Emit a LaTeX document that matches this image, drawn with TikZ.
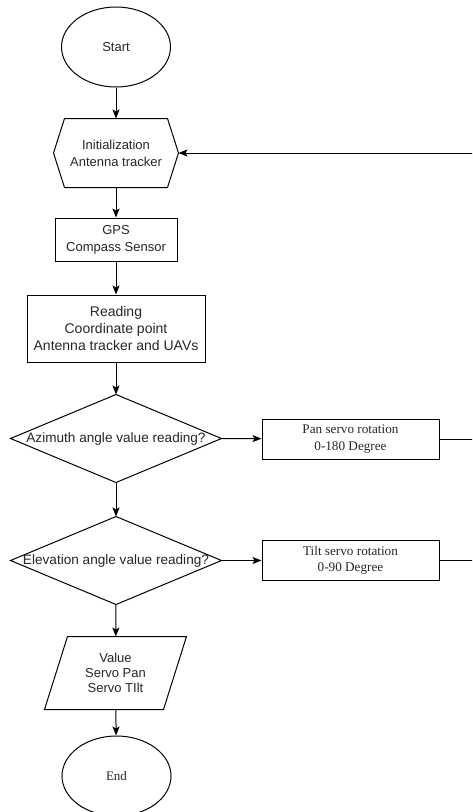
\documentclass[tikz,border=0pt]{standalone}
\usepackage{fontspec}
\setmainfont{Liberation Sans}
\newfontfamily\seriffont{Liberation Serif}
\usetikzlibrary{shapes.geometric,arrows.meta}
\begin{document}
\begin{tikzpicture}[x=1pt,y=-1pt,
  line width=1pt,
  every node/.style={align=center, text=black!85, font=\fontsize{13}{17}\selectfont},
  term/.style={ellipse, draw, minimum width=109pt, minimum height=80pt, inner sep=0pt},
  box/.style={rectangle, draw, inner sep=0pt},
  plain/.style={rectangle, inner sep=0pt},
  servo/.style={box, minimum width=177pt, minimum height=40pt, font=\seriffont\fontsize{13.2}{16.3}\selectfont},
  arr/.style={-{Stealth[length=9pt,width=7pt,inset=2pt]}},
]
\useasboundingbox (0,0) rectangle (472,812);
\clip (0,0) rectangle (472,812);

\node[term] (start) at (116,47) {Start};

\node[plain, minimum width=124pt, minimum height=68pt] (init) at (116,153) {Initialization\\Antenna tracker};
\draw (init.west) -- ([xshift=11pt]init.north west) -- ([xshift=-11pt]init.north east) -- (init.east) -- ([xshift=-11pt]init.south east) -- ([xshift=11pt]init.south west) -- cycle;

\node[box, minimum width=122pt, minimum height=43pt] (gps) at (116,239.5) {GPS\\Compass Sensor};

\node[box, minimum width=178pt, minimum height=67pt, font=\fontsize{14}{17.3}\selectfont] (read) at (116,328.5) {Reading\\Coordinate point\\Antenna tracker and UAVs};

\node[plain, minimum width=210pt, minimum height=87pt, font=\fontsize{13.6}{17}\selectfont] (az) at (116,438.5) {Azimuth angle value reading?};
\draw (az.west) -- (az.north) -- (az.east) -- (az.south) -- cycle;

\node[servo] (pan) at (350.5,439) {Pan servo rotation\\0-180 Degree};

\node[plain, minimum width=210pt, minimum height=87pt, font=\fontsize{13.6}{17}\selectfont] (el) at (116,560.5) {Elevation angle value reading?};
\draw (el.west) -- (el.north) -- (el.east) -- (el.south) -- cycle;

\node[servo] (tilt) at (350.5,560.5) {Tilt servo rotation\\0-90 Degree};

\node[plain, minimum width=141pt, minimum height=72pt, font=\fontsize{13}{15.3}\selectfont] (val) at (115.5,673) {Value\\Servo Pan\\Servo TIlt};
\draw ([xshift=23pt]val.north west) -- (val.north east) -- ([xshift=-23pt]val.south east) -- (val.south west) -- cycle;

\node[term, font=\seriffont\fontsize{13}{16}\selectfont] (end) at (116.5,776) {End};

\draw[arr] (start) -- (init);
\draw[arr] (init) -- (gps);
\draw[arr] (gps) -- (read);
\draw[arr] (read) -- (az.north);
\draw[arr] (az.east) -- (pan);
\draw[arr] (az.south) -- (el.north);
\draw[arr] (el.east) -- (tilt);
\draw[arr] (el.south) -- (val);
\draw[arr] (val) -- (end);

\coordinate (rt) at (490,560.5);
\draw[arr] (tilt.east) -- (rt) |- (init.east);
\draw (pan.east) -- (rt |- pan.east);
\end{tikzpicture}
\end{document}
